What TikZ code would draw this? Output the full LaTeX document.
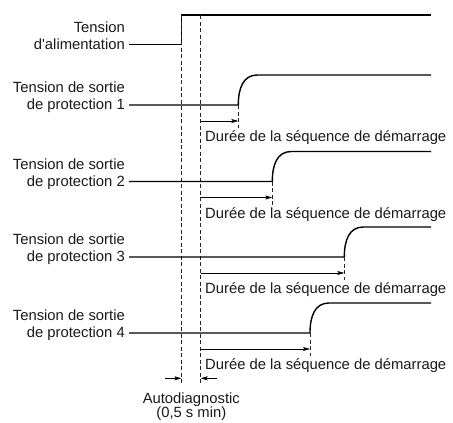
\documentclass[tikz,border=0pt]{standalone}
\usepackage{fontspec}
\setmainfont{Liberation Sans}[Ligatures=TeXOff]
\usetikzlibrary{arrows.meta}
\begin{document}
\begin{tikzpicture}[x=1pt,y=-1pt,
  signal/.style={line width=1.4pt, line join=round},
  guide/.style={line width=0.8pt, dash pattern=on 4pt off 2.5pt, black!85},
  span/.style={line width=0.7pt, -{Stealth[length=7pt,width=4pt,inset=1.5pt]}},
  lbl/.style={font=\fontsize{14.8}{17}\selectfont, inner sep=0pt, text=black!90},
]
\useasboundingbox (0,0) rectangle (453,423);

% supply voltage
\coordinate (p0) at (129,44.5);
\coordinate (pr) at (181.5,44.5);
\coordinate (pt) at (181.5,15);
\coordinate (pe) at (431,15);
\draw[signal] (p0) -- (pr) -- (pt) -- (pe);
\node[lbl, anchor=base east] (lp) at (125,49)
  {\begin{tabular}[b]{@{}r@{}}Tension\\d'alimentation\end{tabular}};

% self-diagnosis window guides
\coordinate (ga) at (181.5,15);
\coordinate (ga2) at (181.5,385);
\coordinate (gb) at (200.7,15);
\coordinate (gb2) at (200.7,385);
\draw[guide] (ga) -- (ga2);
\draw[guide] (gb) -- (gb2);

% protection outputs
\foreach \i/\y/\r in {1/105/238.3, 2/181.5/272.3, 3/257/344.3, 4/333/310}{
  \coordinate (s\i) at (129,\y);
  \coordinate (r\i) at (\r,\y);
  \coordinate (t\i) at (\r+19,\y-30);
  \coordinate (e\i) at (431,\y-30);
  \draw[signal] (s\i) -- (r\i) .. controls (\r,\y-17) and (\r+5,\y-30) .. (t\i) -- (e\i);
  \coordinate (m\i) at (\r,\y+23);
  \draw[guide] (r\i) -- (m\i);
  \coordinate (a\i) at (200.7,\y+16);
  \coordinate (b\i) at (\r,\y+16);
  \draw[span] (a\i) -- (b\i);
  \node[lbl, anchor=base west] (d\i) at (205,\y+36.5) {Durée de la séquence de démarrage};
  \node[lbl, anchor=base east] (l\i) at (125,\y+4.5)
    {\begin{tabular}[b]{@{}r@{}}Tension de sortie\\de protection \i\end{tabular}};
}

% self-diagnosis duration
\coordinate (k1) at (165,378.3);
\coordinate (k2) at (181.5,378.3);
\coordinate (k3) at (217.3,378.3);
\coordinate (k4) at (200.7,378.3);
\draw[span] (k1) -- (k2);
\draw[span] (k3) -- (k4);
\node[lbl, anchor=base] (ad) at (191.3,403.3)
  {\begin{tabular}[t]{@{}c@{}}Autodiagnostic\\[-2.8pt](0,5 s min)\end{tabular}};
\end{tikzpicture}
\end{document}
